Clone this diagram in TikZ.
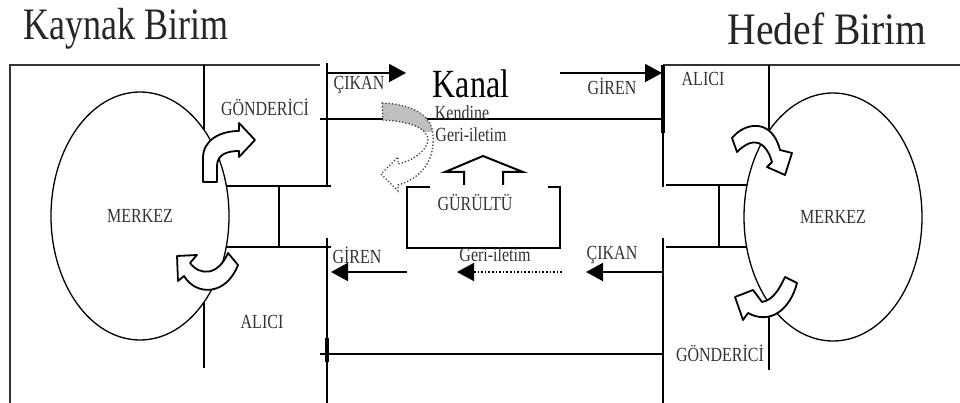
\documentclass[tikz,border=0pt]{standalone}
\usepackage{fontspec}
\setmainfont{Liberation Serif}
\usepackage{graphicx}
\usetikzlibrary{arrows.meta,shapes.geometric}
\newcommand{\vtx}[1]{\scalebox{1}[1.25]{#1}}
\begin{document}
\begin{tikzpicture}[x=1pt,y=-1pt,
  lnframe/.style={line width=1.5pt,black!80},
  lnmid/.style={line width=1.3pt},
  lnthick/.style={line width=2.6pt},
  lnbar/.style={line width=2pt},
  lnbox/.style={line width=2pt,line join=miter},
  arr/.style={line width=2pt,-{Triangle[length=17pt,width=18pt]}},
  darr/.style={line width=1.6pt,dotted,-{Triangle[length=17pt,width=18pt]}},
  blockarr/.style={draw,fill=white,line width=1.8pt,line join=round},
  lbl/.style={font=\fontsize{16}{18}\selectfont,text=black!80,inner sep=0pt},
  ttl/.style={font=\fontsize{36}{40}\selectfont,text=black!85,inner sep=0pt},
  merkez/.style={ellipse,draw,lnmid,minimum width=178pt,minimum height=248pt,inner sep=0pt,
    font=\fontsize{16}{18}\selectfont,text=black!80}
]
\useasboundingbox (0,0) rectangle (960,403);

% titles
\node[ttl] (src) at (126,29) {\vtx{Kaynak Birim}};
\node[ttl] (dst) at (827,29) {\scalebox{1.1}[1.25]{Hedef Birim}};

% frames
\draw[lnframe] (10,403) -- (10,65) -- (320,65);
\draw[lnframe] (663,65) -- (960,65);

% ellipses
\node[merkez] (mL) at (140,216) {\vtx{MERKEZ}};
\node[merkez] (mR) at (833,217) {\vtx{MERKEZ}};

% left unit lines
\draw[lnmid] (204,65) -- (204,130);
\draw[lnmid] (204,302) -- (204,368);
\draw[lnthick] (226,186) -- (331,186);
\draw[lnthick] (226,247) -- (331,247);
\draw[lnmid] (279,186) -- (279,247);
\draw[lnbar] (327,63) -- (327,186);
\draw[lnbar] (327,238) -- (327,403);
\draw[line width=4pt] (327,338) -- (327,362);
\draw[lnmid] (320,119) -- (663,119);
\draw[lnmid] (320,354) -- (663,354);

% right unit lines
\draw[lnbar] (663,65) -- (663,187);
\draw[line width=3.5pt] (663,65) -- (663,133);
\draw[lnbar] (663,238) -- (663,403);
\draw[lnthick] (666,185) -- (747,185);
\draw[lnthick] (666,247) -- (747,247);
\draw[lnmid] (719,185) -- (719,247);
\draw[lnmid] (769,65) -- (769,131);
\draw[lnmid] (769,303) -- (769,370);

% block arrows
\draw[blockarr] (203,182) -- (203,158) .. controls (203,140) and (220,131) .. (239,131)
  -- (239,123) -- (255,140) -- (239,157) -- (239,151) .. controls (228,151) and (217,154) .. (217,166)
  -- (217,182) -- cycle;
\draw[blockarr] (177,256) -- (197,255) -- (190,263) .. controls (200,276) and (218,276) .. (228,253)
  -- (238,265) .. controls (226,296) and (196,296) .. (184,276) -- (178,281) -- cycle;
\draw[blockarr] (732,138) .. controls (745,122) and (772,118) .. (780,150) -- (792,153)
  -- (785,175) -- (767,167) -- (772,162) .. controls (766,142) and (754,135) .. (737,152) -- cycle;
\draw[blockarr] (735,297) -- (753,290) -- (762,302) .. controls (772,300) and (778,292) .. (785,277)
  -- (797,283) .. controls (790,310) and (770,325) .. (748,313) -- (743,320) -- cycle;

% channel arrows
\coordinate (tOutS) at (328,73);  \coordinate (tOutE) at (406,73);
\coordinate (tInS) at (560,73);   \coordinate (tInE) at (662,73);
\coordinate (bInS) at (407,272);  \coordinate (bInE) at (331,272);
\coordinate (bFbS) at (562,272);  \coordinate (bFbE) at (457,272);
\coordinate (bOutS) at (663,272); \coordinate (bOutE) at (586,272);
\draw[arr] (tOutS) -- (tOutE);
\draw[arr] (tInS) -- (tInE);
\draw[arr] (bInS) -- (bInE);
\draw[darr] (bFbS) -- (bFbE);
\draw[arr] (bOutS) -- (bOutE);

% noise box and arrow
\draw[lnbox] (430,187) -- (407,187) -- (407,248) -- (560,248) -- (560,187) -- (548,187);
\draw[lnbox] (464,185) -- (464,172) -- (445,172) -- (483,156) -- (523,172) -- (503,172) -- (503,185);

% self feedback dotted arrow
\def\echoshape{(382,103) .. controls (410,104) and (432,114) .. (433,135)
  .. controls (435,160) and (422,178) .. (398,185) -- (398,191) -- (381,174) -- (398,157)
  -- (398,164) .. controls (415,160) and (427,150) .. (428,140)
  .. controls (428,128) and (408,121) .. (383,120) -- cycle}
\begin{scope}
  \clip (375,95) rectangle (440,132);
  \fill[black!25] \echoshape;
\end{scope}
\draw[line width=1.3pt,dotted,black!75] \echoshape;

% labels
\node[lbl] (gonL) at (265,107) {\vtx{GÖNDERİCİ}};
\node[lbl] (aliL) at (262,322) {\vtx{ALICI}};
\node[lbl] (cikT) at (359,85) {\vtx{ÇIKAN}};
\node[font=\fontsize{32}{34}\selectfont,inner sep=0pt] (kanal) at (471,84) {\vtx{Kanal}};
\node[lbl] (kend) at (462,113) {\vtx{Kendine}};
\node[lbl] (geriT) at (471,135) {\vtx{Geri-iletim}};
\node[lbl] (girT) at (612,86) {\vtx{GİREN}};
\node[lbl] (aliR) at (703,79) {\vtx{ALICI}};
\node[lbl] (gonR) at (720,353) {\vtx{GÖNDERİCİ}};
\node[lbl] (gur) at (475,202) {\vtx{GÜRÜLTÜ}};
\node[lbl] (girB) at (357,255) {\vtx{GİREN}};
\node[lbl] (geriB) at (495,255) {\vtx{Geri-iletim}};
\node[lbl] (cikB) at (612,255) {\vtx{ÇIKAN}};
\end{tikzpicture}
\end{document}
